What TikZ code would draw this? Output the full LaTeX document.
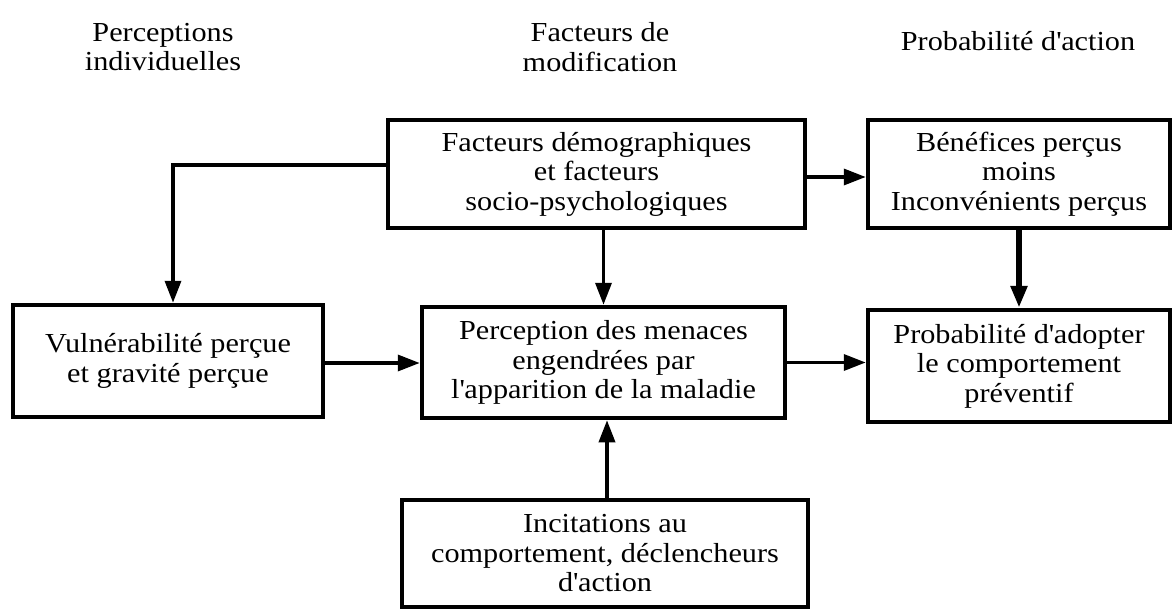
\documentclass[tikz,border=0pt]{standalone}
\usepackage{fontspec}
\setmainfont{Liberation Serif}[FakeStretch=1.1]
\usetikzlibrary{arrows.meta}

\begin{document}
\begin{tikzpicture}[x=1pt, y=-1pt,
  box/.style={draw, line width=4.5pt, align=center, inner sep=0pt},
  head/.style={align=center},
  arr/.style={line width=3.5pt, -{Triangle[length=22pt, width=16pt]}},
  font=\fontsize{27.5}{29.5}\selectfont]
\useasboundingbox (0,0) rectangle (1173,610);
% column titles
\node[head] at (163, 47) (hperc) {Perceptions\\individuelles};
\node[head] at (600, 47) (hfact) {Facteurs de\\modification};
\node[head] at (1018, 41) (hprob) {Probabilit\'e d\textquotesingle action};
% boxes
\node[box, minimum width=417pt, minimum height=108pt] at (596.5, 174) (demo)
  {Facteurs d\'emographiques\\et facteurs\\socio-psychologiques};
\node[box, minimum width=302pt, minimum height=108pt] at (1019, 174) (bene)
  {B\'en\'efices per\c{c}us\\moins\\Inconv\'enients per\c{c}us};
\node[box, minimum width=310pt, minimum height=112pt] at (168, 361) (vuln)
  {Vuln\'erabilit\'e per\c{c}ue\\et gravit\'e per\c{c}ue};
\node[box, minimum width=363pt, minimum height=111pt] at (603.5, 362.5) (mena)
  {Perception des menaces\\engendr\'ees par\\l\textquotesingle apparition de la maladie};
\node[box, minimum width=302pt, minimum height=112pt] at (1019, 366) (adop)
  {Probabilit\'e d\textquotesingle adopter\\le comportement\\pr\'eventif};
\node[box, minimum width=406pt, minimum height=107pt] at (605, 553.5) (inci)
  {Incitations au\\comportement, d\'eclencheurs\\d\textquotesingle action};
% arrows
\draw[arr] ([yshift=9pt]demo.west) -| ([xshift=5pt]vuln.north);
\draw[arr] ([yshift=-3pt]demo.east) -- ([yshift=-3pt]demo.east -| bene.west);
\draw[arr] (demo.south -| mena.north) -- (mena.north);
\draw[arr, line width=5.5pt] (bene.south) -- (bene.south |- adop.north);
\draw[arr] ([yshift=-2pt]vuln.east) -- ([yshift=-2pt]vuln.east -| mena.west);
\draw[arr] (mena.east) -- (mena.east -| adop.west);
\draw[arr] ([xshift=2pt]inci.north) -- ([xshift=2pt]inci.north |- mena.south);
\end{tikzpicture}
\end{document}
